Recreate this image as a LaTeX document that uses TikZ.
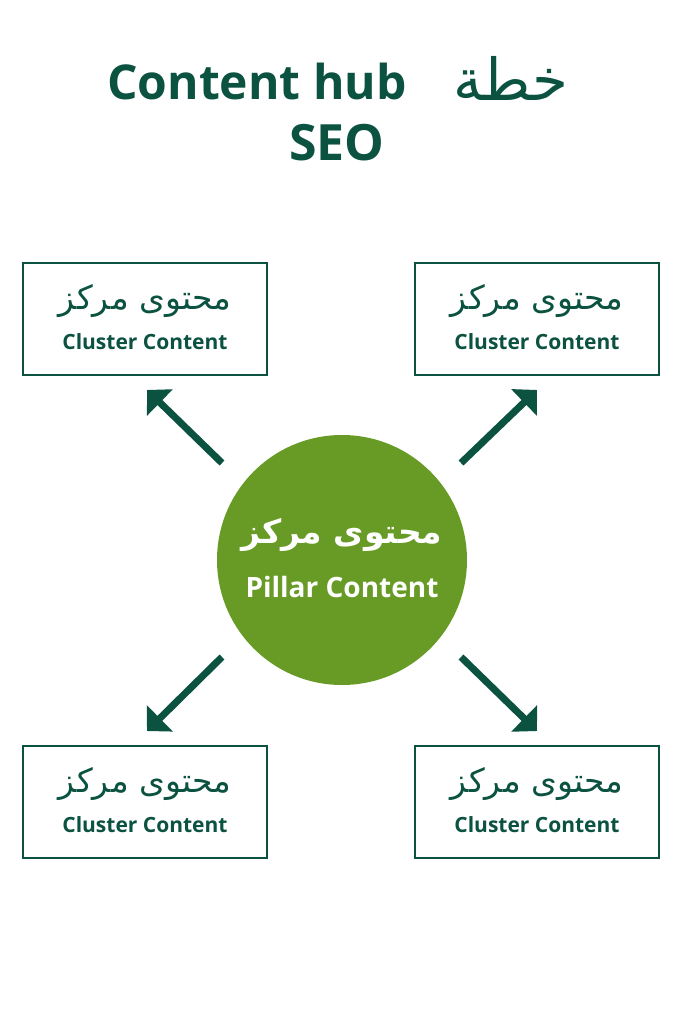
\documentclass[tikz,border=0pt]{standalone}
\usepackage{fontspec}
\usetikzlibrary{arrows.meta}
\TeXXeTstate=1
\newfontfamily\titlefont{Open Sans}
\newfontfamily\labfont{Open Sans}
\newfontfamily\arabicfont[Script=Arabic]{DejaVu Sans}
\definecolor{dkgreen}{HTML}{0B5241}
\definecolor{cgreen}{HTML}{679B25}
\tikzset{
  clbox/.style={draw=dkgreen, line width=1.6pt, minimum width=244pt, minimum height=112pt, inner sep=0pt},
  arabictxt/.style={text=dkgreen, font=\arabicfont\fontsize{33}{36}\selectfont, inner sep=0pt},
  cltxt/.style={text=dkgreen, font=\labfont\bfseries\fontsize{21}{24}\selectfont, inner sep=0pt},
  arr/.style={draw=dkgreen, line width=7pt, -{Triangle[width=36pt,length=18pt]}},
  ttl/.style={text=dkgreen, font=\titlefont\bfseries\fontsize{48}{58}\selectfont, inner sep=0pt}
}
\begin{document}
\begin{tikzpicture}[x=1pt,y=-1pt]
\useasboundingbox[fill=white] (0,0) rectangle (683,1024);
% title
\node[ttl, anchor=west] (t1) at (107,82) {Content hub};
\node[text=dkgreen, font=\arabicfont\fontsize{58}{64}\selectfont, inner sep=0pt] (t2) at (511,78) {\beginR خطة\endR};
\node[ttl, font=\titlefont\bfseries\fontsize{50}{60}\selectfont] (t3) at (337,143) {SEO};
% boxes
\node[clbox] (tl) at (145,319) {};
\node[clbox] (tr) at (537,319) {};
\node[clbox] (bl) at (145,802) {};
\node[clbox] (br) at (537,802) {};
\foreach \b in {tl,tr,bl,br}{
  \node[arabictxt] (\b a) at ([yshift=18pt]\b.center) {\beginR محتوى مركز\endR};
  \node[cltxt] (\b e) at ([yshift=-23pt]\b.center) {Cluster Content};
}
% circle
\node[circle, fill=cgreen, minimum size=250pt, inner sep=0pt] (c) at (342,560) {};
\node[text=white, font=\arabicfont\bfseries\fontsize{33}{38}\selectfont, inner sep=0pt] (ca) at (342,535) {\beginR محتوى مركز\endR};
\node[text=white, font=\labfont\bfseries\fontsize{28}{32}\selectfont, inner sep=0pt] (ce) at (342,587) {Pillar Content};
% arrows
\coordinate (s1) at (222,463); \coordinate (e1) at (147,390);
\coordinate (s2) at (461,463); \coordinate (e2) at (537,390);
\coordinate (s3) at (222,657); \coordinate (e3) at (147,731);
\coordinate (s4) at (461,657); \coordinate (e4) at (537,731);
\draw[arr] (s1) -- (e1);
\draw[arr] (s2) -- (e2);
\draw[arr] (s3) -- (e3);
\draw[arr] (s4) -- (e4);
\end{tikzpicture}
\end{document}
